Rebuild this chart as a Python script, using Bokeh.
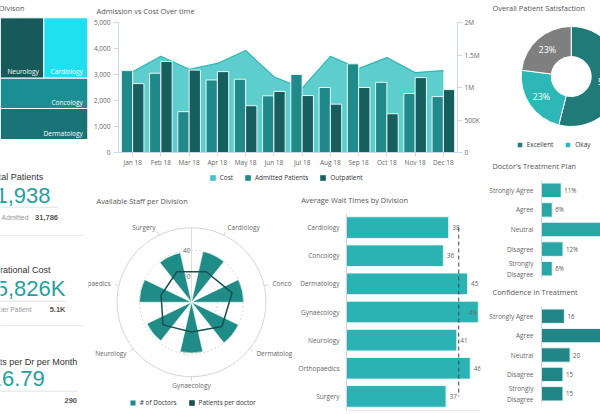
import math
from bokeh.plotting import figure
from bokeh.layouts import row, column
from bokeh.models import (ColumnDataSource, Range1d, FactorRange, LinearAxis, FixedTicker,
                          NumeralTickFormatter, Legend, LegendItem, Label, Span)
from bokeh.transform import dodge
from bokeh.core.properties import value
from bokeh.embed import file_html
from bokeh.resources import INLINE

FONT = "Open Sans"
KFONT = "Liberation Sans"
TITLE_C = "#555555"
LABEL_C = "#666666"
AXIS_LINE = "#ccd6eb"
TEAL_TEXT = "#26a09c"

# ---------------- data ----------------
months = ["Jan 18", "Feb 18", "Mar 18", "Apr 18", "May 18", "Jun 18",
          "Jul 18", "Aug 18", "Sep 18", "Oct 18", "Nov 18", "Dec 18"]
admitted_patients = [3150, 3050, 1570, 2790, 2820, 2180, 3000, 2500, 3410, 2700, 2270, 2150]
outpatients = [2650, 3500, 3170, 3110, 1800, 2350, 2190, 1860, 2500, 1490, 2880, 2420]
monthly_cost = [1240000, 1480000, 1280000, 1370000, 1570000, 1165000,
                990000, 1480000, 1290000, 1460000, 1230000, 1260000]
patient_ticks = [0, 1000, 2000, 3000, 4000, 5000]
cost_ticks = [0, 500000, 1000000, 1500000, 2000000]
cost_tick_labels = ["0", "500K", "1M", "1.5M", "2M"]
series_names = ["Cost", "Admitted Patients", "Outpatient"]
series_colors = ["#45c4c4", "#1f8a89", "#175e5e"]

treemap_divisions = ["Neurology", "Cardiology", "Concology", "Dermatology"]
treemap_values = [2620, 2660, 2650, 2710]
treemap_colors = ["#175a5b", "#1fdff0", "#1b8e93", "#187476"]
treemap_rows = [[0, 1], [2], [3]]

divisions = ["Cardiology", "Concology", "Dermatology", "Gynaecology",
             "Neurology", "Orthopaedics", "Surgery"]
doctors = [40, 40, 40, 39, 38, 40, 39]
patients_per_doctor = [26, 32, 30, 23, 28, 24, 26]
staff_ticks = [20, 40]
staff_max = 57.3

wait_times = [38, 36, 45, 49, 41, 46, 37]

satisfaction_labels = ["Excellent", "Okay", "Poor"]
satisfaction_pct = [54, 23, 23]
satisfaction_colors = ["#1f7a78", "#2db7b7", "#7f7f7f"]

answers = ["Strongly Agree", "Agree", "Neutral", "Disagree", "Strongly\nDisagree"]
treatment_plan_pct = [11, 6, 65, 12, 6]
confidence_counts = [16, 44, 20, 15, 15]

total_patients = "41,938"
patients_admitted = "31,786"
operational_cost = "$5,826K"
cost_per_patient = "5.1K"
patients_per_dr_month = "16.79"
total_doctors = "290"


# ---------------- helpers ----------------
def make_fig(w, h, xr, yr, bl=0, br=0, bt=0, bb=0, xaxis=None, yaxis=None):
    p = figure(width=w, height=h, x_range=xr, y_range=yr, output_backend="svg",
               toolbar_location=None, x_axis_location=xaxis, y_axis_location=yaxis,
               min_border_left=bl, min_border_right=br, min_border_top=bt, min_border_bottom=bb)
    p.outline_line_color = None
    p.border_fill_color = "white"
    p.background_fill_color = "white"
    p.grid.visible = False
    return p


def add_title(p, text, x, y):
    # label inside the frame (x, y: pixels from the frame's bottom-left corner)
    p.add_layout(Label(x=x, y=y, x_units="screen", y_units="screen", text=text,
                       text_font=FONT, text_font_size="7.4px", text_color=TITLE_C,
                       text_baseline="middle", text_align="left"))


def set_title(p, text, offset, standoff):
    # title in the panel above the frame
    p.title.text = text
    p.title.align = "left"
    p.title.vertical_align = "top"
    p.title.offset = offset
    p.title.standoff = standoff
    p.title.text_font = FONT
    p.title.text_font_size = "7.4px"
    p.title.text_font_style = "normal"
    p.title.text_color = TITLE_C


def style_axis(ax, standoff, tick_out=5, tick_color=AXIS_LINE):
    ax.axis_line_color = AXIS_LINE
    ax.major_tick_line_color = tick_color
    ax.major_tick_out = tick_out
    ax.major_tick_in = 0
    ax.minor_tick_line_color = None
    ax.major_label_text_font = FONT
    ax.major_label_text_font_size = "6.5px"
    ax.major_label_text_color = LABEL_C
    ax.major_label_standoff = standoff


def make_legend(items, x, y, spacing):
    return Legend(items=items, location=(x, y), orientation="horizontal",
                  glyph_width=7, glyph_height=7, label_standoff=4, spacing=spacing,
                  padding=0, margin=0, border_line_color=None, background_fill_alpha=0,
                  label_text_font=FONT, label_text_font_size="6.4px",
                  label_text_color="#333333", label_height=7, label_width=0)


# ---------------- left column: treemap + KPIs ----------------
pa = make_fig(88, 414, Range1d(0, 88), Range1d(414, 0))

TM_L, TM_R, TM_T, TM_B = 0.0, 87.3, 17.3, 139.0
tm_total = sum(treemap_values)
tl, tr, tt, tb, tx, ty = [], [], [], [], [], []
ycur = TM_T
for rowi in treemap_rows:
    rs = sum(treemap_values[i] for i in rowi)
    h = (TM_B - TM_T) * rs / tm_total
    xcur = TM_L
    for i in rowi:
        w = (TM_R - TM_L) * treemap_values[i] / rs
        tl.append(xcur); tr.append(xcur + w); tt.append(ycur); tb.append(ycur + h)
        tx.append(xcur + w - 5); ty.append(ycur + h - 6.5)
        xcur += w
    ycur += h
tm_src = ColumnDataSource(dict(l=tl, r=tr, t=tt, b=tb, x=tx, y=ty,
                               name=treemap_divisions, color=treemap_colors))
pa.quad(left="l", right="r", top="t", bottom="b", fill_color="color",
        line_color="white", line_width=1, source=tm_src)
pa.text(x="x", y="y", text="name", source=tm_src, text_font=value(FONT),
        text_font_size=value("6.5px"), text_color="white", text_align="right",
        text_baseline="middle")


def kpi_text(p, x, y, s, size, color, align="right", font=KFONT, style="normal"):
    p.text(x=[x], y=[y], text=[s], text_font=value(font), text_font_size=value(size),
           text_color=color, text_align=align, text_baseline="middle", text_font_style=style)


kpi_text(pa, 24, 7.5, "Patients by Divison", "7.4px", TITLE_C, font=FONT)
kpi_text(pa, 42.7, 176.7, "Total Patients", "9px", "#333333")
kpi_text(pa, 50, 195, total_patients, "22px", TEAL_TEXT)
kpi_text(pa, 28.3, 217.3, "Patients Admitted", "6.8px", "#999999")
kpi_text(pa, 57.5, 217.3, patients_admitted, "7.5px", "#555555", style="bold")
kpi_text(pa, 50, 269, "Operational Cost", "9px", "#333333")
kpi_text(pa, 65, 288.3, operational_cost, "22px", TEAL_TEXT)
kpi_text(pa, 31, 309, "Cost per Patient", "6.8px", "#999999")
kpi_text(pa, 65, 309, cost_per_patient, "7.5px", "#555555", style="bold")
kpi_text(pa, 76.7, 361, "Patients per Dr per Month", "9px", "#333333")
kpi_text(pa, 44.3, 378.3, patients_per_dr_month, "22px", TEAL_TEXT)
kpi_text(pa, 76.5, 400, total_doctors, "7.5px", "#555555", style="bold")
pa.segment(x0=[-10, -10, -10], y0=[206.7, 300.7, 390.7], x1=[57.3, 65, 77], y1=[206.7, 300.7, 390.7],
           line_color="#e3e3e3", line_width=1)
pa.segment(x0=[-10, -10], y0=[235, 325], x1=[84, 84], y1=[235, 325],
           line_color="#ececec", line_width=1)

# ---------------- combo chart ----------------
src = ColumnDataSource(dict(month=months, admitted=admitted_patients,
                            outpatient=outpatients, cost=monthly_cost))
H1 = 170
p1 = make_fig(394, H1, FactorRange(*months), Range1d(0, 5000),
              bl=30, br=24, bt=21, bb=H1 - 152, xaxis="below", yaxis="left")
p1.extra_y_ranges = {"cost": Range1d(0, 2000000)}
p1.varea(x="month", y1=0, y2="cost", source=src, y_range_name="cost",
         fill_color="#2fbfbf", fill_alpha=0.78)
p1.line(x="month", y="cost", source=src, y_range_name="cost",
        line_color="#33b6b6", line_width=1.2)
p1.vbar(x=dodge("month", -0.2, range=p1.x_range), top="admitted", width=0.4,
        source=src, fill_color=series_colors[1], line_color="#e8f6f6", line_width=1)
p1.vbar(x=dodge("month", 0.2, range=p1.x_range), top="outpatient", width=0.4,
        source=src, fill_color=series_colors[2], line_color="#e8f6f6", line_width=1)
p1.yaxis.ticker = FixedTicker(ticks=patient_ticks)
p1.yaxis.formatter = NumeralTickFormatter(format="0,0")
style_axis(p1.yaxis[0], 3)
style_axis(p1.xaxis[0], 1, tick_out=4)
rax = LinearAxis(y_range_name="cost", ticker=FixedTicker(ticks=cost_ticks),
                 major_label_overrides=dict(zip(cost_ticks, cost_tick_labels)))
style_axis(rax, 2)
p1.add_layout(rax, "right")
set_title(p1, "Admission vs Cost Over time", 96 - 118, 10)

# legend strip for the combo chart (own small plot so the legend sits inside a frame)
TOP_L, H_L = 170, 14
pl = make_fig(394, H_L, Range1d(0, 1), Range1d(0, 1))
leg_proxies = [pl.rect(x=[0], y=[0], width=0, height=0, fill_color=c, line_color=None)
               for c in series_colors]
pl.add_layout(make_legend([LegendItem(label=nm, renderers=[r])
                           for nm, r in zip(series_names, leg_proxies)],
                          208.8 - 88, (TOP_L + H_L) - 181.8, 11))

# ---------------- radar chart ----------------
S = 1.3
CX, CY = 191.0, 301.7
TOP2 = TOP_L + H_L
p2 = make_fig(204, 414 - TOP2, Range1d((88 - CX) / S, (292 - CX) / S),
              Range1d((CY - 414) / S, (CY - TOP2) / S))
n = len(divisions)
step = 360.0 / n
theta = [step / 2 + i * step for i in range(n)]
rsrc = ColumnDataSource(dict(
    doctors=doctors,
    start=[math.radians(90 - t - step / 4) for t in theta],
    end=[math.radians(90 - t + step / 4) for t in theta],
))
p2.circle(x=[0, 0], y=[0, 0], radius=staff_ticks, fill_color=None,
          line_color="#d8d8d8", line_dash="2 2", line_width=1)
p2.circle(x=[0], y=[0], radius=[staff_max], fill_color=None, line_color="#d5d5d5", line_width=1)
p2.segment(x0=[0], y0=[0], x1=[0], y1=[staff_max], line_color="#dddddd", line_width=1)
p2.segment(x0=[staff_max * math.sin(math.radians(t)) for t in theta],
           y0=[staff_max * math.cos(math.radians(t)) for t in theta],
           x1=[(staff_max + 4 / S) * math.sin(math.radians(t)) for t in theta],
           y1=[(staff_max + 4 / S) * math.cos(math.radians(t)) for t in theta],
           line_color=AXIS_LINE, line_width=1)
p2.text(x=[-0.8] * len(staff_ticks), y=staff_ticks, text=[str(t) for t in staff_ticks],
        text_font=value(FONT), text_font_size=value("6.5px"), text_color=LABEL_C,
        text_align="right", text_baseline="middle")
wedges = p2.wedge(x=0, y=0, radius="doctors", start_angle="start", end_angle="end",
                  source=rsrc, fill_color="#1f8c88", line_color="white", line_width=0.5)
p2.patch(x=[v * math.sin(math.radians(t)) for v, t in zip(patients_per_doctor, theta)],
         y=[v * math.cos(math.radians(t)) for v, t in zip(patients_per_doctor, theta)],
         fill_color=None, line_color="#1a4f4f", line_width=1.5)
R_LAB = 83 / S
lab_align = []
for t in theta:
    s_ = math.sin(math.radians(t))
    lab_align.append("center" if abs(s_) < 0.1 else ("left" if s_ > 0 else "right"))
p2.text(x=[R_LAB * math.sin(math.radians(t)) for t in theta],
        y=[R_LAB * math.cos(math.radians(t)) for t in theta],
        text=divisions, text_align=lab_align, text_font=value(FONT),
        text_font_size=value("6.5px"), text_color=LABEL_C, text_baseline="middle")
# zero-size proxy so the legend gets a filled swatch for the line series
ppd_proxy = p2.rect(x=[0], y=[0], width=0, height=0, fill_color="#1a4f4f", line_color=None)
add_title(p2, "Available Staff per Division", 8, 414 - 200.7)
p2.add_layout(make_legend([LegendItem(label="# of Doctors", renderers=[wedges]),
                           LegendItem(label="Patients per doctor", renderers=[ppd_proxy])],
                          40.8, 7.5, 11))

# ---------------- wait times ----------------
WX_MAX = 49.8
avg_wait = sum(wait_times) / len(wait_times)
inside = [v + 10 / 2.69 > WX_MAX for v in wait_times]
wsrc = ColumnDataSource(dict(
    y=list(range(len(divisions))), v=wait_times, lbl=[str(v) for v in wait_times],
    align=["right" if i else "left" for i in inside],
    xoff=[-2 if i else 3.5 for i in inside],
))
p3 = make_fig(190, 414 - TOP2, Range1d(0, WX_MAX), Range1d(len(divisions) - 0.5, -0.5),
              bl=54, br=2, bt=213 - TOP2, bb=4, xaxis=None, yaxis="left")
p3.hbar(y="y", left=0, right="v", height=0.77, source=wsrc,
        fill_color="#2bb3b3", line_color="#e8f6f6", line_width=1)
p3.text(x="v", y="y", text="lbl", x_offset="xoff", text_align="align", source=wsrc,
        text_font=value(FONT), text_font_size=value("6.5px"), text_color=LABEL_C,
        text_baseline="middle")
p3.segment(x0=[avg_wait], y0=[0], x1=[avg_wait], y1=[len(divisions) - 1],
           line_color="#444444", line_dash="4 3", line_width=1)
p3.add_layout(Span(location=len(divisions) - 0.5, dimension="width",
                   line_color=AXIS_LINE, line_width=1))
p3.yaxis.ticker = FixedTicker(ticks=list(range(len(divisions))))
p3.yaxis.major_label_overrides = {i: d for i, d in enumerate(divisions)}
style_axis(p3.yaxis[0], 7, tick_out=0, tick_color=None)
set_title(p3, "Average Wait Times by Division", 300.7 - 346, 11.9)

# ---------------- donut ----------------
DX, DY = 570.7, 76.0
H4 = 150
p4 = make_fig(118, H4, Range1d(482 - DX, 600 - DX), Range1d(DY - H4, DY))
tot = float(sum(satisfaction_pct))
cum = 0.0
st, en, lx, ly = [], [], [], []
for v in satisfaction_pct:
    a0 = cum / tot
    cum += v
    a1 = cum / tot
    st.append(math.pi / 2 - 2 * math.pi * a0)
    en.append(math.pi / 2 - 2 * math.pi * a1)
    mid = math.pi / 2 - 2 * math.pi * (a0 + a1) / 2
    lx.append(36 * math.cos(mid))
    ly.append(36 * math.sin(mid))
dsrc = ColumnDataSource(dict(start=st, end=en, color=satisfaction_colors, x=lx, y=ly,
                             lbl=["%d%%" % v for v in satisfaction_pct]))
donut = p4.annular_wedge(x=0, y=0, inner_radius=20, outer_radius=50, start_angle="start",
                         end_angle="end", direction="clock", fill_color="color",
                         line_color="white", line_width=1, source=dsrc)
p4.text(x="x", y="y", text="lbl", source=dsrc, text_font=value(FONT),
        text_font_size=value("9px"), text_color="white", text_align="center",
        text_baseline="middle")
add_title(p4, "Overall Patient Satisfaction", 10, H4 - 7.3)
p4.add_layout(make_legend([LegendItem(label=l, renderers=[donut], index=i)
                           for i, l in enumerate(satisfaction_labels)], 33.8, 1.5, 11))


# ---------------- survey bars ----------------
def survey(h, vals, xmax, bt, bb, color, suffix, title):
    p = make_fig(118, h, Range1d(0, xmax), Range1d(len(answers) - 0.5, -0.5),
                 bl=59, br=0, bt=bt, bb=bb, xaxis=None, yaxis="left")
    s = ColumnDataSource(dict(y=list(range(len(answers))), v=vals,
                              lbl=["%d%s" % (v, suffix) for v in vals]))
    p.hbar(y="y", left=0, right="v", height=0.74, source=s, fill_color=color,
           line_color="#e8f6f6", line_width=1)
    p.text(x="v", y="y", text="lbl", x_offset=3, source=s, text_font=value(FONT),
           text_font_size=value("6.2px"), text_color="#555555", text_baseline="middle")
    p.yaxis.ticker = FixedTicker(ticks=list(range(len(answers))))
    p.yaxis.major_label_overrides = {i: a for i, a in enumerate(answers)}
    style_axis(p.yaxis[0], 8, tick_out=0, tick_color=None)
    set_title(p, title, 492 - 541, 13.9)
    return p


p5 = survey(130, treatment_plan_pct, 59 / 1.79, 30, 2, "#2aa6a6", "%",
            "Doctor's Treatment Plan")
p6 = survey(134, confidence_counts, 59 / 1.43, 26, 11, "#238686", "",
            "Confidence in Treatment")

layout = row(column(pa),
             column(column(p1), column(pl), row(column(p2), column(p3))),
             column(row(p4), row(p5), row(p6)))
open("out.html", "w").write(file_html(layout, INLINE))
